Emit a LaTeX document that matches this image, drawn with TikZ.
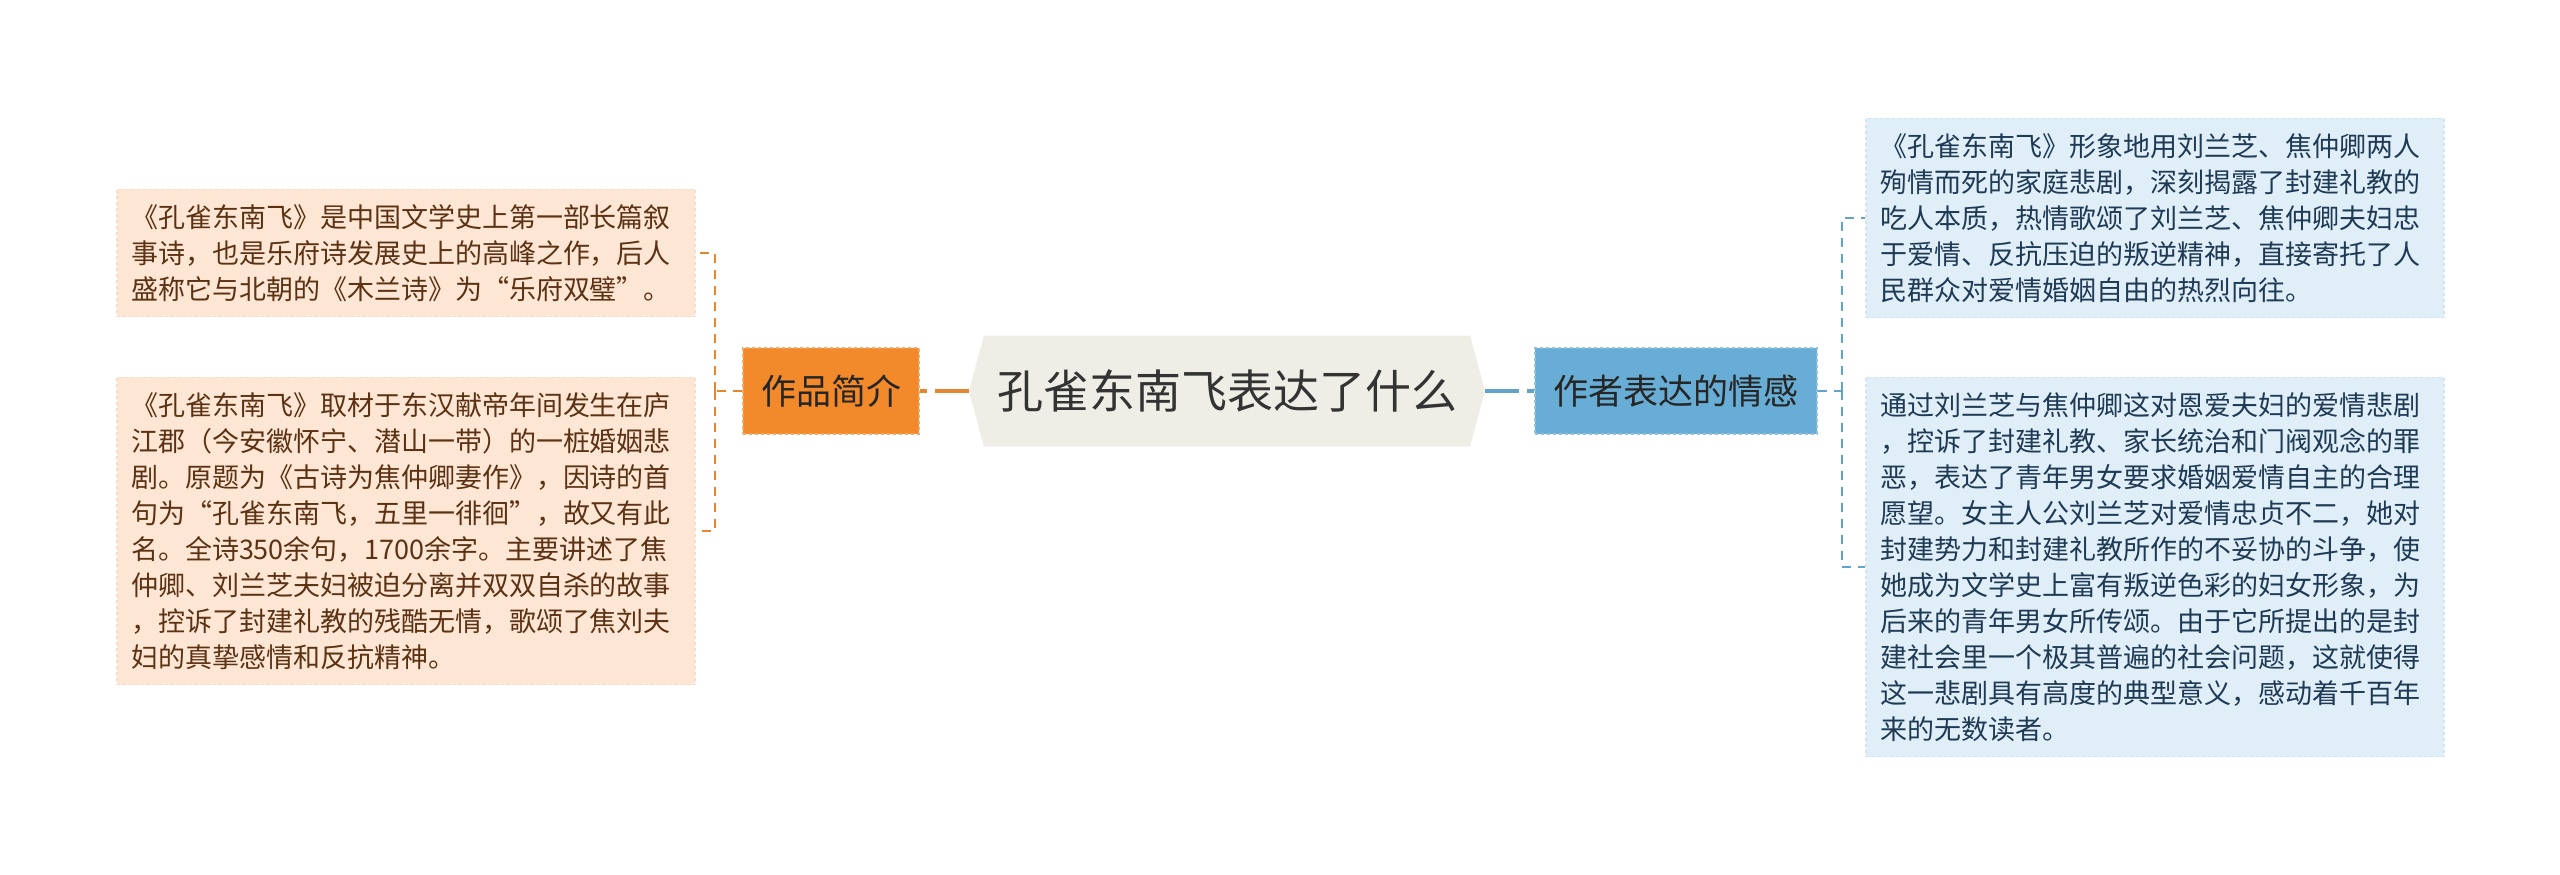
\documentclass[tikz,border=0pt]{standalone}
\usepackage{fontspec}
\setmainfont{Noto Sans CJK SC}
\usetikzlibrary{shapes.symbols}
\definecolor{introfill}{HTML}{F2892B}
\definecolor{introline}{HTML}{F6A860}
\definecolor{feelfill}{HTML}{68ADD5}
\definecolor{feelline}{HTML}{8EC2E0}
\definecolor{titlefill}{HTML}{EFEEE6}
\definecolor{peach}{HTML}{FDE6D4}
\definecolor{peachline}{HTML}{FADCC6}
\definecolor{paleblue}{HTML}{E0EEF7}
\definecolor{palebline}{HTML}{D0E3EF}
\definecolor{browntext}{HTML}{5C3214}
\definecolor{navytext}{HTML}{1E3A55}
\definecolor{orangelink}{HTML}{E8862F}
\definecolor{bluelink}{HTML}{62A3CC}
\tikzset{
  notebox/.style={rectangle, dashed, line width=1.2pt, text width=550pt,
    inner xsep=14pt, inner ysep=15pt, align=left,
    font=\fontsize{27}{36}\selectfont},
  branchbox/.style={rectangle, dashed, line width=1.5pt, minimum height=86pt,
    inner sep=0pt, font=\fontsize{35}{40}\selectfont, text=black!85}
}

\begin{document}
\begin{tikzpicture}[x=1pt,y=-1pt,
  % dashed links, thin ones to the notes
  twig/.style={dashed, line width=2pt, dash pattern=on 9pt off 7pt},
  trunk/.style={line width=4pt, dash pattern=on 34pt off 8pt}]

\useasboundingbox[fill=white] (0,0) rectangle (2560,875);

\node[signal, signal to=west and east, signal pointer angle=150,
  fill=titlefill, minimum width=516pt, minimum height=111pt, inner sep=0pt,
  font=\fontsize{46}{50}\selectfont, text=black!80] (title) at (1227,391) {孔雀东南飞表达了什么};

\node[branchbox, fill=introfill, draw=introline, minimum width=176pt] (intro) at (831,391) {作品简介};
\node[branchbox, fill=feelfill, draw=feelline, minimum width=282pt] (feel) at (1676,391) {作者表达的情感};

\node[notebox, fill=peach, draw=peachline, text=browntext] (brief1) at (406,253)
{《孔雀东南飞》是中国文学史上第一部长篇叙\\事诗，也是乐府诗发展史上的高峰之作，后人\\盛称它与北朝的《木兰诗》为“乐府双璧”。};

\node[notebox, fill=peach, draw=peachline, text=browntext] (brief2) at (406,531)
{《孔雀东南飞》取材于东汉献帝年间发生在庐\\江郡（今安徽怀宁、潜山一带）的一桩婚姻悲\\剧。原题为《古诗为焦仲卿妻作》，因诗的首\\句为“孔雀东南飞，五里一徘徊”，故又有此\\名。全诗350余句，1700余字。主要讲述了焦\\仲卿、刘兰芝夫妇被迫分离并双双自杀的故事\\，控诉了封建礼教的残酷无情，歌颂了焦刘夫\\妇的真挚感情和反抗精神。};

\node[notebox, fill=paleblue, draw=palebline, text=navytext] (emo1) at (2155,218)
{《孔雀东南飞》形象地用刘兰芝、焦仲卿两人\\殉情而死的家庭悲剧，深刻揭露了封建礼教的\\吃人本质，热情歌颂了刘兰芝、焦仲卿夫妇忠\\于爱情、反抗压迫的叛逆精神，直接寄托了人\\民群众对爱情婚姻自由的热烈向往。};

\node[notebox, fill=paleblue, draw=palebline, text=navytext] (emo2) at (2155,567)
{通过刘兰芝与焦仲卿这对恩爱夫妇的爱情悲剧\\，控诉了封建礼教、家长统治和门阀观念的罪\\恶，表达了青年男女要求婚姻爱情自主的合理\\愿望。女主人公刘兰芝对爱情忠贞不二，她对\\封建势力和封建礼教所作的不妥协的斗争，使\\她成为文学史上富有叛逆色彩的妇女形象，为\\后来的青年男女所传颂。由于它所提出的是封\\建社会里一个极其普遍的社会问题，这就使得\\这一悲剧具有高度的典型意义，感动着千百年\\来的无数读者。};

\coordinate (lj) at (715,391);
\coordinate (rj) at (1842,391);

\draw[trunk, orangelink] (title.west) -- (intro.east);
\draw[trunk, bluelink] (title.east) -- (feel.west);

\draw[twig, orangelink] (intro.west) -- (lj);
\draw[twig, orangelink] (lj) |- (brief1.east);
\draw[twig, orangelink] (lj) |- (brief2.east);

\draw[twig, bluelink] (feel.east) -- (rj);
\draw[twig, bluelink] (rj) |- (emo1.west);
\draw[twig, bluelink] (rj) |- (emo2.west);
\end{tikzpicture}
\end{document}
